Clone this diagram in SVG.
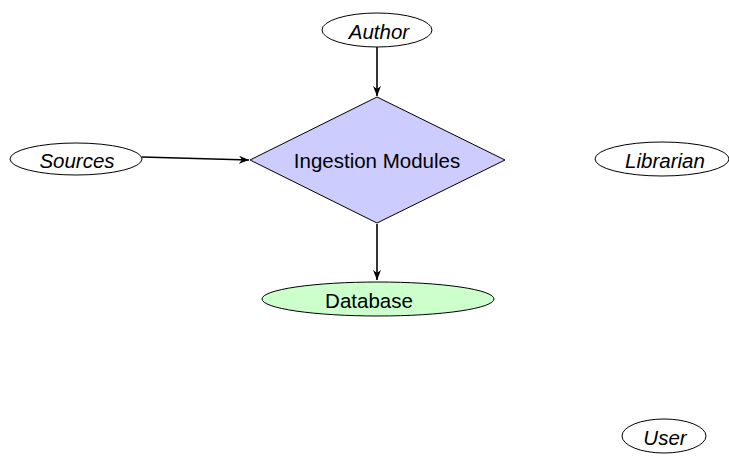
<svg xmlns="http://www.w3.org/2000/svg" width="729" height="456" viewBox="0 0 729 456">
<style>
text{font-family:"Liberation Sans",Arial,sans-serif;font-size:20.5px;fill:#000;text-anchor:middle;dominant-baseline:central}
.it{font-style:italic}
.n{stroke:#000;stroke-width:1}
.e{stroke:#000;stroke-width:1.6;fill:none}
</style>
<defs>
<marker id="ah" viewBox="0 0 10 8" refX="10" refY="4" markerWidth="10" markerHeight="8" markerUnits="userSpaceOnUse" orient="auto">
<path d="M0,0 L10,4 L0,8 L3,4 Z" fill="#000"/>
</marker>
</defs>
<rect width="729" height="456" fill="#fff"/>
<g id="connectors">
<line class="e" x1="377" y1="47" x2="377" y2="96" marker-end="url(#ah)"/>
<line class="e" x1="142" y1="157" x2="249" y2="160" marker-end="url(#ah)"/>
<line class="e" x1="377" y1="224" x2="377" y2="280" marker-end="url(#ah)"/>
</g>
<g id="author"><ellipse class="n" cx="377" cy="30" rx="55" ry="17" fill="#fff"/><text class="it" x="379" y="31">Author</text></g>
<g id="sources"><ellipse class="n" cx="76" cy="159" rx="66" ry="16" fill="#fff"/><text class="it" x="77" y="160">Sources</text></g>
<g id="ingestion"><polygon class="n" points="377,97 505,160 377,223 250,160" fill="#ccccff"/><text x="377" y="160">Ingestion Modules</text></g>
<g id="database"><ellipse class="n" cx="378" cy="299" rx="116" ry="17" fill="#ccffcc"/><text x="369" y="300">Database</text></g>
<g id="librarian"><ellipse class="n" cx="662" cy="159" rx="67" ry="17" fill="#fff"/><text class="it" x="665" y="160">Librarian</text></g>
<g id="user"><ellipse class="n" cx="664" cy="436" rx="42" ry="17" fill="#fff"/><text class="it" x="665" y="437">User</text></g>
</svg>
